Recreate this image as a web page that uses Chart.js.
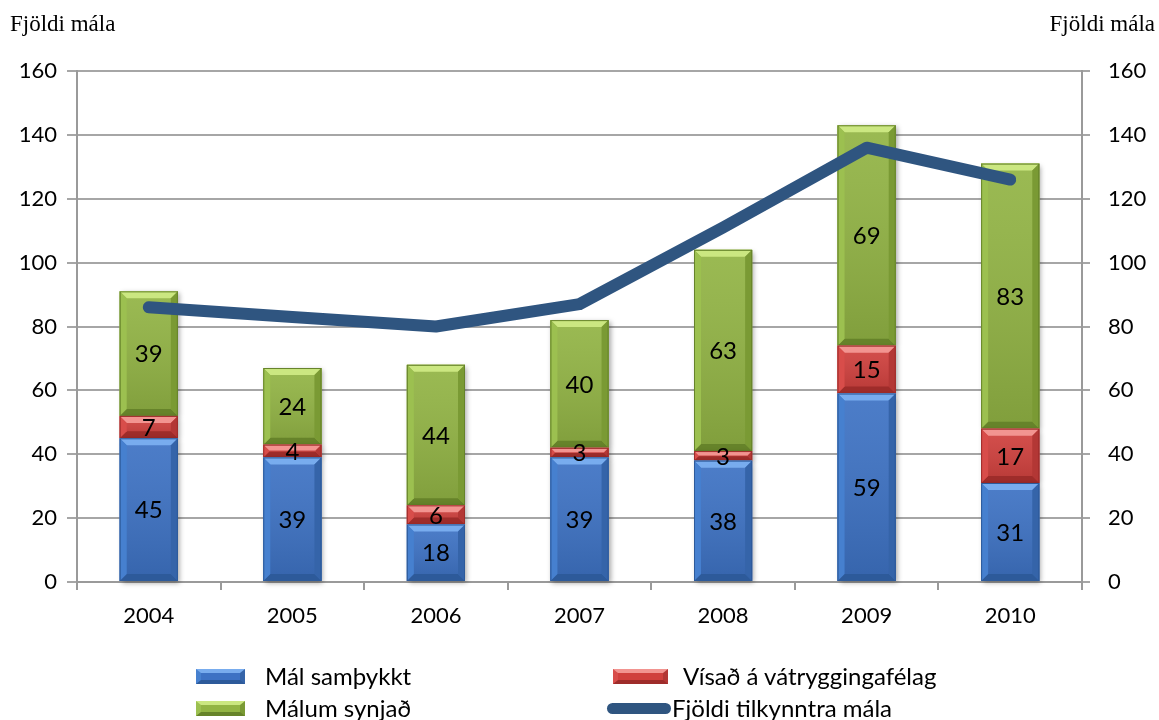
<!DOCTYPE html>
<html>
<head>
<meta charset="utf-8">
<script src="https://cdn.jsdelivr.net/npm/chart.js@4.4.1/dist/chart.umd.min.js"></script>
<style>
  html, body { margin: 0; padding: 0; background: #fff; }
  #wrap { position: relative; width: 1159px; height: 720px; overflow: hidden; }
  #c { position: absolute; left: 0; top: 0; }
  .axt { position: absolute; top: 11px; font-family: "Liberation Serif", "DejaVu Serif", serif; font-size: 23px; color: #000; }
  .lg { position: absolute; font-family: Lato, "Open Sans", sans-serif; font-size: 24px; color: #000; line-height: 28px; white-space: nowrap; }
  .sw { position: absolute; box-sizing: border-box; height: 15px; border-style: solid; border-width: 4px 5px; }
  .ln { position: absolute; height: 11px; border-radius: 6px; background: #2f5580; }
</style>
</head>
<body>
<div id="wrap">
  <canvas id="c" width="1159" height="720"></canvas>
  <div class="axt" style="left:10px;">Fjöldi mála</div>
  <div class="axt" style="right:4px;">Fjöldi mála</div>
  <div id="legend"></div>
</div>
<script>
// Years on the category axis
const years = ['2004', '2005', '2006', '2007', '2008', '2009', '2010'];
// Stacked bar series
const malSamthykkt = [45, 39, 18, 39, 38, 59, 31];
const visadVatrygg = [7, 4, 6, 3, 3, 15, 17];
const malumSynjad = [39, 24, 44, 40, 63, 69, 83];
// Line series on the secondary axis
const fjoldiTilkynntra = [86, 83, 80, 87, 111, 136, 126];
// Axis ticks
const axisMin = 0, axisMax = 160, axisStep = 20;

const seriesNames = ['Mál samþykkt', 'Vísað á vátryggingafélag', 'Málum synjað', 'Fjöldi tilkynntra mála'];

// Bevel palette for each bar series
const bevel = [
  { face: '#3d72c4', top: '#78acee', bottom: '#2d5a9a', left: '#4680cf', right: '#3564a9', edge: '#2d5a9a' },
  { face: '#d0403d', top: '#f29490', bottom: '#9e2c2a', left: '#d84d4a', right: '#b33735', edge: '#9e2c2a' },
  { face: '#92b444', top: '#cbe781', bottom: '#66832a', left: '#9cc050', right: '#7a9a34', edge: '#66832a' }
];

const FONT = 'Lato, "Open Sans", sans-serif';

function quad(ctx, pts, color) {
  ctx.beginPath();
  ctx.moveTo(pts[0][0], pts[0][1]);
  for (let i = 1; i < pts.length; i++) ctx.lineTo(pts[i][0], pts[i][1]);
  ctx.closePath();
  ctx.fillStyle = color;
  ctx.fill();
}

// Soft shadow behind each bar segment, and bevelled faces on top of it
const bevelPlugin = {
  id: 'bevelBars',
  beforeDatasetDraw(chart, args) {
    if (args.index > 2) return;
    const ctx = chart.ctx;
    const meta = chart.getDatasetMeta(args.index);
    ctx.save();
    meta.data.forEach(el => {
      const p = el.getProps(['x', 'y', 'base', 'width'], true);
      const l = p.x - p.width / 2, t = Math.min(p.y, p.base), h = Math.abs(p.base - p.y);
      ctx.shadowColor = 'rgba(0,0,0,0.35)';
      ctx.shadowBlur = 5;
      ctx.shadowOffsetX = 2;
      ctx.shadowOffsetY = 2;
      ctx.fillStyle = '#888';
      ctx.fillRect(l, t, p.width, h);
    });
    ctx.restore();
  },
  afterDatasetDraw(chart, args) {
    if (args.index > 2) return;
    const ctx = chart.ctx;
    const pal = bevel[args.index];
    const meta = chart.getDatasetMeta(args.index);
    ctx.save();
    meta.data.forEach(el => {
      const p = el.getProps(['x', 'y', 'base', 'width'], true);
      const l = p.x - p.width / 2, r = p.x + p.width / 2;
      const t = Math.min(p.y, p.base), b = Math.max(p.y, p.base);
      const h = b - t;
      const bv = Math.min(7, h / 2.2);
      // face with a gentle top-to-bottom shading
      ctx.fillStyle = pal.face;
      ctx.fillRect(l, t, p.width, h);
      const sh = ctx.createLinearGradient(0, t, 0, b);
      sh.addColorStop(0, 'rgba(255,255,255,0.08)');
      sh.addColorStop(1, 'rgba(0,0,0,0.12)');
      ctx.fillStyle = sh;
      ctx.fillRect(l, t, p.width, h);
      // bevel edges
      quad(ctx, [[l, t], [r, t], [r - bv, t + bv], [l + bv, t + bv]], pal.top);
      quad(ctx, [[l, b], [r, b], [r - bv, b - bv], [l + bv, b - bv]], pal.bottom);
      quad(ctx, [[l, t], [l + bv, t + bv], [l + bv, b - bv], [l, b]], pal.left);
      quad(ctx, [[r, t], [r - bv, t + bv], [r - bv, b - bv], [r, b]], pal.right);
      ctx.strokeStyle = pal.edge;
      ctx.lineWidth = 1;
      ctx.strokeRect(l + 0.5, t + 0.5, p.width - 1, h - 1);
    });
    ctx.restore();
  }
};

// Value labels in the middle of every bar segment
const valueLabels = {
  id: 'valueLabels',
  afterDatasetsDraw(chart) {
    const ctx = chart.ctx;
    ctx.save();
    ctx.font = '24px ' + FONT;
    ctx.fillStyle = '#000';
    ctx.textAlign = 'center';
    ctx.textBaseline = 'middle';
    [0, 1, 2].forEach(di => {
      const meta = chart.getDatasetMeta(di);
      const vals = chart.data.datasets[di].data;
      meta.data.forEach((el, i) => {
        const p = el.getProps(['x', 'y', 'base'], true);
        ctx.fillText(String(vals[i]), p.x, (p.y + p.base) / 2 + 1);
      });
    });
    ctx.restore();
  }
};

const tickFont = { family: FONT, size: 22 };

new Chart(document.getElementById('c'), {
  data: {
    labels: years,
    datasets: [
      { type: 'bar', label: seriesNames[0], data: malSamthykkt, backgroundColor: bevel[0].face, yAxisID: 'y', order: 1 },
      { type: 'bar', label: seriesNames[1], data: visadVatrygg, backgroundColor: bevel[1].face, yAxisID: 'y', order: 1 },
      { type: 'bar', label: seriesNames[2], data: malumSynjad, backgroundColor: bevel[2].face, yAxisID: 'y', order: 1 },
      { type: 'line', label: seriesNames[3], data: fjoldiTilkynntra, borderColor: '#2f5580', borderWidth: 12,
        borderCapStyle: 'round', borderJoinStyle: 'round', pointRadius: 0, tension: 0, yAxisID: 'y1', order: 0 }
    ]
  },
  options: {
    responsive: false,
    animation: false,
    events: [],
    datasets: { bar: { categoryPercentage: 1, barPercentage: 0.405 } },
    layout: { padding: { top: 71, bottom: 78, left: 0, right: 0 } },
    plugins: { legend: { display: false }, tooltip: { enabled: false } },
    scales: {
      x: {
        stacked: true,
        offset: true,
        grid: { display: true, drawOnChartArea: false, drawTicks: true, tickLength: 8, offset: true, color: '#9a9a9a', lineWidth: 2 },
        border: { display: true, color: '#9a9a9a', width: 2 },
        ticks: { font: tickFont, color: '#000', padding: 13 },
        afterFit(s) { s.height = 60; }
      },
      y: {
        stacked: true,
        position: 'left',
        min: axisMin, max: axisMax,
        grid: { color: '#a6a6a6', lineWidth: 2, tickLength: 10 },
        border: { display: true, color: '#9a9a9a', width: 2 },
        ticks: { stepSize: axisStep, font: tickFont, color: '#000', padding: 10 },
        afterFit(s) { s.width = 77; }
      },
      y1: {
        position: 'right',
        min: axisMin, max: axisMax,
        grid: { drawOnChartArea: false, color: '#a6a6a6', lineWidth: 2, tickLength: 8 },
        border: { display: true, color: '#9a9a9a', width: 2 },
        ticks: { stepSize: axisStep, font: tickFont, color: '#000', padding: 18 },
        afterFit(s) { s.width = 77; }
      }
    }
  },
  plugins: [bevelPlugin, valueLabels]
});

// Legend below the plot: two columns, two rows
const legend = document.getElementById('legend');
const items = [
  { name: seriesNames[0], kind: 0, sx: 196, tx: 265, y: 676 },
  { name: seriesNames[1], kind: 1, sx: 613, tx: 683, y: 676 },
  { name: seriesNames[2], kind: 2, sx: 196, tx: 265, y: 708 },
  { name: seriesNames[3], kind: 3, sx: 607, tx: 672, y: 708 }
];
items.forEach(it => {
  if (it.kind < 3) {
    const p = bevel[it.kind];
    const sw = document.createElement('div');
    sw.className = 'sw';
    sw.style.left = it.sx + 'px';
    sw.style.top = (it.y - 7) + 'px';
    sw.style.width = (it.kind === 1 ? 55 : 49) + 'px';
    sw.style.background = p.face;
    sw.style.borderColor = p.top + ' ' + p.right + ' ' + p.bottom + ' ' + p.left;
    legend.appendChild(sw);
  } else {
    const ln = document.createElement('div');
    ln.className = 'ln';
    ln.style.left = it.sx + 'px';
    ln.style.top = (it.y - 5) + 'px';
    ln.style.width = '64px';
    legend.appendChild(ln);
  }
  const tx = document.createElement('div');
  tx.className = 'lg';
  tx.style.left = it.tx + 'px';
  tx.style.top = (it.y - 14) + 'px';
  tx.textContent = it.name;
  legend.appendChild(tx);
});
</script>
</body>
</html>
